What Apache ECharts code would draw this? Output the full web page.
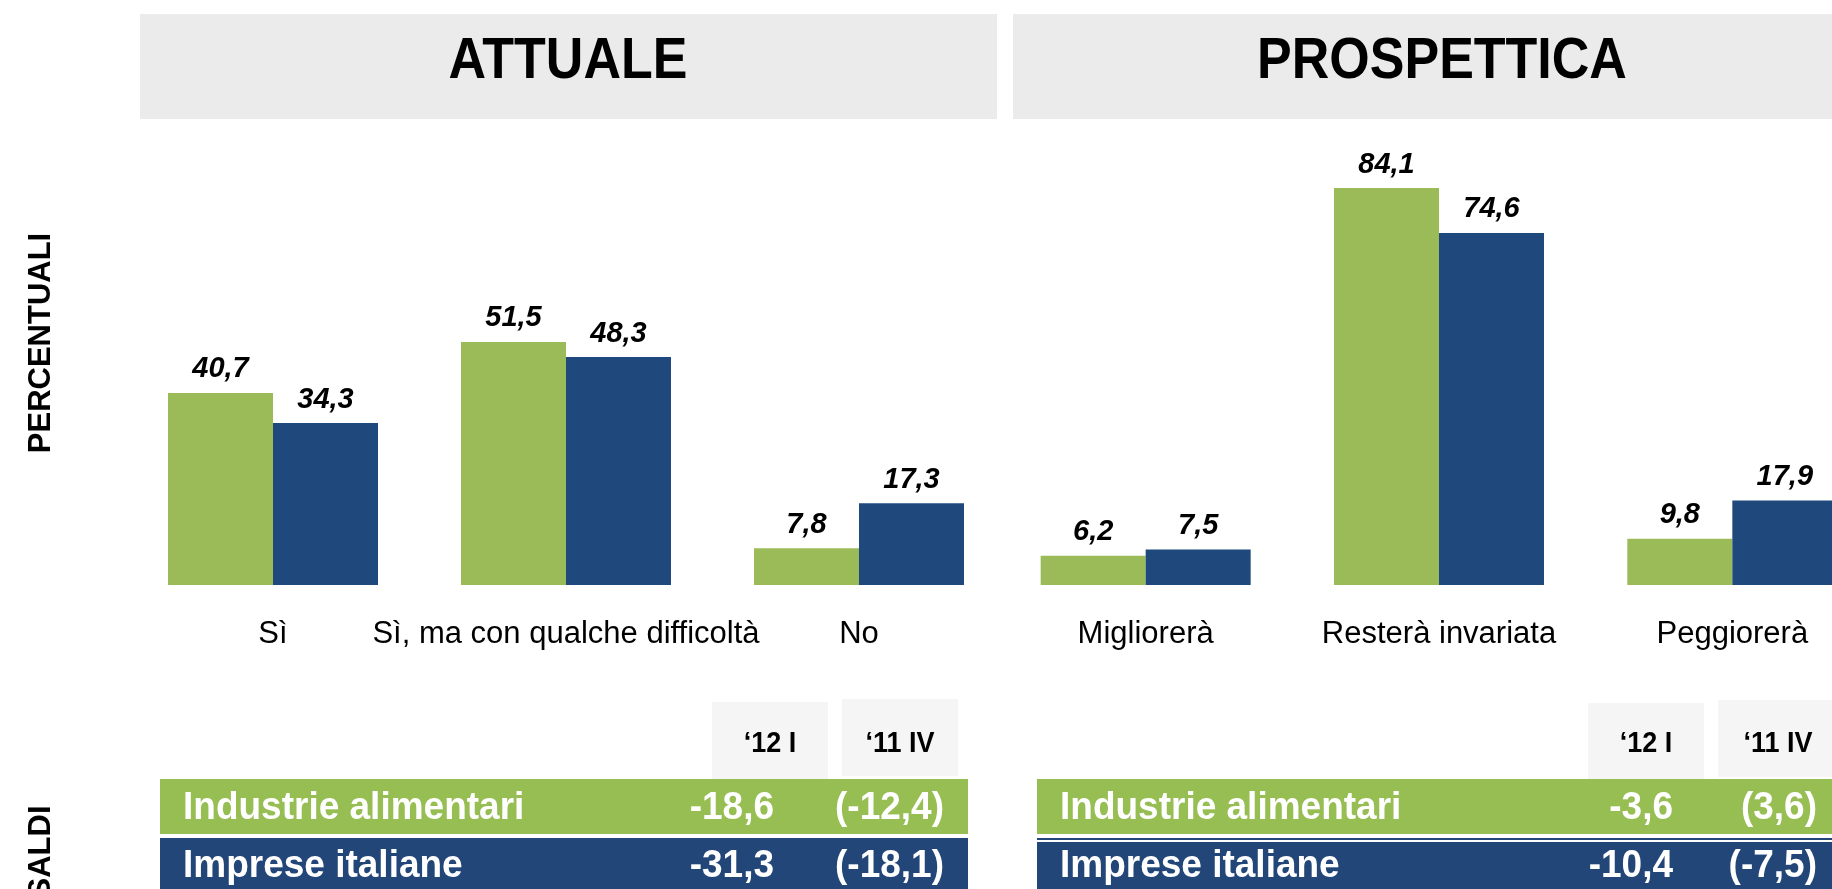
<!DOCTYPE html>
<html>
<head>
<meta charset="utf-8">
<title>Attuale / Prospettica</title>
<script src="https://cdn.jsdelivr.net/npm/echarts@6/dist/echarts.min.js"></script>
<style>
html, body { margin: 0; padding: 0; background: #fff; }
#main { width: 1832px; height: 889px; }
</style>
</head>
<body>
<div id="main"></div>
<script>
var attualeCategories     = ['Sì', 'Sì, ma con qualche difficoltà', 'No'];
var prospetticaCategories = ['Migliorerà', 'Resterà invariata', 'Peggiorerà'];
var seriesNames           = ['Industrie alimentari', 'Imprese italiane'];

var attualeAlimentari     = [40.7, 51.5, 7.8];
var attualeImprese        = [34.3, 48.3, 17.3];
var prospetticaAlimentari = [6.2, 84.1, 9.8];
var prospetticaImprese    = [7.5, 74.6, 17.9];

var saldiPeriods             = ['‘12 I', '‘11 IV'];
var attualeSaldiCurrent      = [-18.6, -31.3];
var attualeSaldiPrevious     = [-12.4, -18.1];
var prospetticaSaldiCurrent  = [-3.6, -10.4];
var prospetticaSaldiPrevious = [3.6, -7.5];

var fontFamily  = '"Liberation Sans", Arial, sans-serif';
var barGreen    = '#9BBB59';
var barBlue     = '#1F497D';
var rowGreen    = '#97BE53';
var rowBlue     = '#234679';
var headerFill  = '#ebebeb';
var periodFill  = '#f5f5f5';

/**
 * Format a number with comma decimal.
 *
 * @param  number value
 * @return string
 */
function formatValue(value)
{
    return value.toFixed(1).replace('.', ',');
}

/**
 * Build a bar series.
 */
function buildBar(name, data, color, axisIndex)
{
    return {
        name: name,
        type: 'bar',
        xAxisIndex: axisIndex,
        yAxisIndex: axisIndex,
        barWidth: 105,
        barGap: '0%',
        itemStyle: {color: color},
        label: {
            show: true,
            position: 'top',
            distance: 9,
            color: '#000',
            fontSize: 29,
            fontWeight: 'bold',
            fontStyle: 'italic',
            fontFamily: fontFamily,
            formatter: function(p) { return formatValue(p.value); }
        },
        data: data
    };
}

/**
 * Build a category axis.
 */
function buildCategoryAxis(gridIndex, categories)
{
    return {
        type: 'category',
        gridIndex: gridIndex,
        data: categories,
        axisLine: {show: false},
        axisTick: {show: false},
        axisLabel: {
            interval: 0,
            hideOverlap: false,
            margin: 34,
            color: '#000',
            fontSize: 31,
            fontFamily: fontFamily
        }
    };
}

/**
 * Build the SALDI table of one panel.
 */
function buildTable(g, opt)
{
    /* Period header cells. */
    for(var i = 0; i < saldiPeriods.length; i++)
    {
        var cell = opt.periodCells[i];
        g.push({type: 'rect', z: 1, shape: {x: cell[0], y: cell[1], width: cell[2], height: cell[3]}, style: {fill: periodFill}});
        g.push({type: 'text', z: 2, x: cell[0] + cell[2] / 2, y: 744, scaleY: 1.08,
            style: {text: saldiPeriods[i], fill: '#000', fontSize: 27, fontWeight: 'bold', fontFamily: fontFamily, align: 'center', verticalAlign: 'middle'}});
    }

    var rows = [
        {y: 779, h: 55, fill: rowGreen, textY: 808},
        {y: opt.blueTop, h: 60, fill: rowBlue, textY: 866}
    ];
    if(opt.blueLine) g.push({type: 'rect', z: 1, shape: {x: opt.x, y: opt.blueTop - 4, width: opt.width, height: 2}, style: {fill: rowBlue}});

    for(var r = 0; r < rows.length; r++)
    {
        var row  = rows[r];
        var text = {fill: '#fff', fontSize: 37, fontWeight: 'bold', fontFamily: fontFamily, verticalAlign: 'middle'};
        g.push({type: 'rect', z: 1, shape: {x: opt.x, y: row.y, width: opt.width, height: row.h}, style: {fill: row.fill}});
        g.push({type: 'text', z: 2, x: opt.x + 23, y: row.textY, scaleY: 1.06, style: Object.assign({text: seriesNames[r], align: 'left'}, text)});
        g.push({type: 'text', z: 2, x: opt.currentRight, y: row.textY, scaleY: 1.06, style: Object.assign({text: formatValue(opt.current[r]), align: 'right'}, text)});
        g.push({type: 'text', z: 2, x: opt.previousRight, y: row.textY, scaleY: 1.06, style: Object.assign({text: '(' + formatValue(opt.previous[r]) + ')', align: 'right'}, text)});
    }
}

var graphic = [];

/* Panel headers. */
graphic.push({type: 'rect', z: 0, shape: {x: 140, y: 14, width: 857, height: 105}, style: {fill: headerFill}});
graphic.push({type: 'rect', z: 0, shape: {x: 1013, y: 14, width: 830, height: 105}, style: {fill: headerFill}});
graphic.push({type: 'text', z: 2, x: 568, y: 62, scaleY: 1.12, style: {text: 'ATTUALE', fill: '#000', fontSize: 52, fontWeight: 'bold', fontFamily: fontFamily, align: 'center', verticalAlign: 'middle'}});
graphic.push({type: 'text', z: 2, x: 1442, y: 62, scaleY: 1.12, style: {text: 'PROSPETTICA', fill: '#000', fontSize: 52, fontWeight: 'bold', fontFamily: fontFamily, align: 'center', verticalAlign: 'middle'}});

/* Side labels. */
graphic.push({type: 'text', z: 2, x: 41, y: 343, rotation: Math.PI / 2, style: {text: 'PERCENTUALI', fill: '#000', fontSize: 31, fontWeight: 'bold', fontFamily: fontFamily, align: 'center', verticalAlign: 'middle'}});
graphic.push({type: 'text', z: 2, x: 41, y: 852, rotation: Math.PI / 2, style: {text: 'SALDI', fill: '#000', fontSize: 31, fontWeight: 'bold', fontFamily: fontFamily, align: 'center', verticalAlign: 'middle'}});

buildTable(graphic, {
    x: 160, width: 808, blueTop: 838, blueLine: false,
    periodCells: [[712, 702, 116, 77], [842, 699, 116, 77]],
    currentRight: 774, previousRight: 944,
    current: attualeSaldiCurrent, previous: attualeSaldiPrevious
});
buildTable(graphic, {
    x: 1037, width: 800, blueTop: 842, blueLine: true,
    periodCells: [[1588, 703, 116, 77], [1718, 700, 120, 77]],
    currentRight: 1673, previousRight: 1817,
    current: prospetticaSaldiCurrent, previous: prospetticaSaldiPrevious
});

var chart  = echarts.init(document.getElementById('main'), null, {renderer: 'canvas'});
var option = {
    animation: false,
    backgroundColor: '#fff',
    grid: [
        {left: 126.5, top: 113, width: 879, height: 472, outerBoundsMode: 'none'},
        {left: 999, top: 113, width: 880, height: 472, outerBoundsMode: 'none'}
    ],
    xAxis: [
        buildCategoryAxis(0, attualeCategories),
        buildCategoryAxis(1, prospetticaCategories)
    ],
    yAxis: [
        {type: 'value', gridIndex: 0, min: 0, max: 100, show: false, splitLine: {show: false}},
        {type: 'value', gridIndex: 1, min: 0, max: 100, show: false, splitLine: {show: false}}
    ],
    series: [
        buildBar(seriesNames[0], attualeAlimentari, barGreen, 0),
        buildBar(seriesNames[1], attualeImprese, barBlue, 0),
        buildBar(seriesNames[0], prospetticaAlimentari, barGreen, 1),
        buildBar(seriesNames[1], prospetticaImprese, barBlue, 1)
    ],
    graphic: graphic
};
chart.setOption(option);
</script>
</body>
</html>
